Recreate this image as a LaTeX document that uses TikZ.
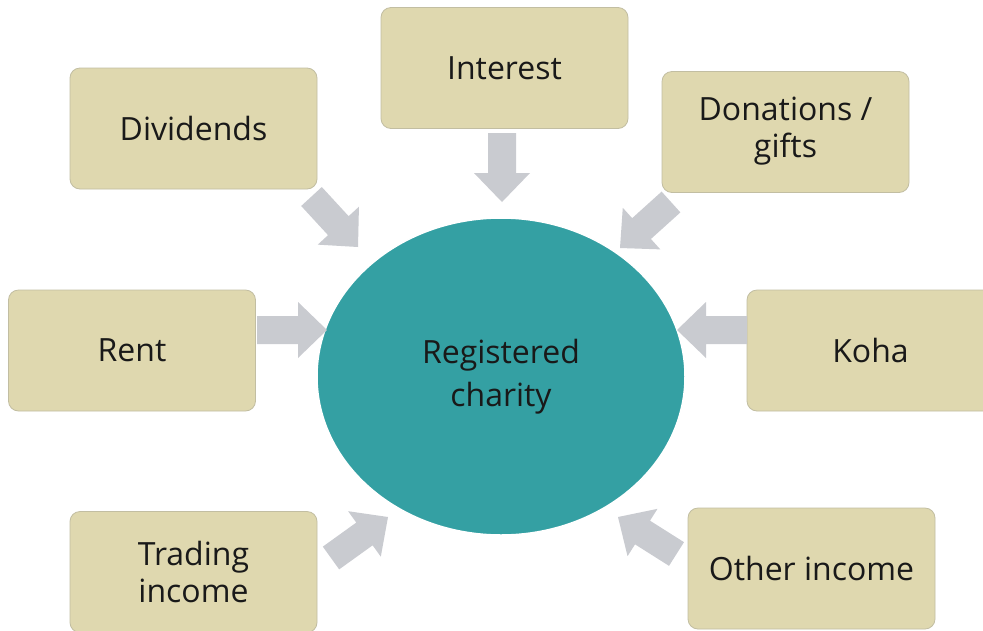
\documentclass[tikz,border=0pt]{standalone}
\usepackage{fontspec}
\setmainfont{Open Sans}
\usetikzlibrary{calc,shapes.geometric}
\definecolor{boxfill}{HTML}{DFD8AF}
\definecolor{boxline}{HTML}{C2BEA2}
\definecolor{teal}{HTML}{34A0A3}
\definecolor{arrowgray}{HTML}{C9CBD0}
\tikzset{
  srcbox/.style={draw=boxline, line width=0.8pt, fill=boxfill, rounded corners=10pt,
    minimum width=247pt, minimum height=121pt, align=center, inner sep=0pt,
    font=\fontsize{32pt}{37pt}\selectfont, text=black!90},
  hub/.style={ellipse, draw=white, line width=1.5pt, fill=teal, minimum width=368pt,
    minimum height=317pt, align=center, inner sep=0pt,
    font=\fontsize{32pt}{43pt}\selectfont, text=black!90},
  blk/.style={fill=arrowgray, draw=none}
}
\newcommand\blockarrow[2]{%
  \coordinate (#1-#2-B) at ($(#2)!29pt!(#1)$);
  \fill[blk] ($(#1)!14pt!90:(#2)$) -- ($(#1-#2-B)!14pt!90:(#2)$) -- ($(#1-#2-B)!28pt!90:(#2)$)
    -- (#2) -- ($(#1-#2-B)!28pt!-90:(#2)$) -- ($(#1-#2-B)!14pt!-90:(#2)$)
    -- ($(#1)!14pt!-90:(#2)$) -- cycle;
}
\begin{document}
\begin{tikzpicture}[x=1pt,y=-1pt]
\useasboundingbox (0,0) rectangle (983,630);
\clip (0,0) rectangle (983,630);
\fill[white] (0,0) rectangle (983,630);

\node[hub] (hub) at (501,376.5) {Registered\\charity};

\node[srcbox] (div) at (193.5,128.5) {Dividends};
\node[srcbox] (int) at (504.5,68) {Interest};
\node[srcbox] (don) at (785.5,132) {\raisebox{-4pt}{\begin{tabular}{@{}c@{}}Donations /\\gifts\end{tabular}}};
\node[srcbox] (rent) at (132,350.5) {Rent};
\node[srcbox] (koha) at (870.5,350.5) {Koha};
\node[srcbox] (trade) at (193.5,572) {Trading\\income};
\node[srcbox] (other) at (811.5,568.5) {Other income};

% arrow tails and tips
\coordinate (divT) at (311.5,196.5);  \coordinate (divP) at (358,247);
\coordinate (intT) at (502,133);      \coordinate (intP) at (502,202);
\coordinate (donT) at (671,202);      \coordinate (donP) at (620,248);
\coordinate (rentT) at (257,330);     \coordinate (rentP) at (327,330);
\coordinate (kohaT) at (747,330);     \coordinate (kohaP) at (677,330);
\coordinate (tradeT) at (331,558);    \coordinate (tradeP) at (388,517);
\coordinate (otherT) at (676.5,554);  \coordinate (otherP) at (618,517);

\blockarrow{divT}{divP}
\blockarrow{intT}{intP}
\blockarrow{donT}{donP}
\blockarrow{rentT}{rentP}
\blockarrow{kohaT}{kohaP}
\blockarrow{tradeT}{tradeP}
\blockarrow{otherT}{otherP}
\end{tikzpicture}
\end{document}
